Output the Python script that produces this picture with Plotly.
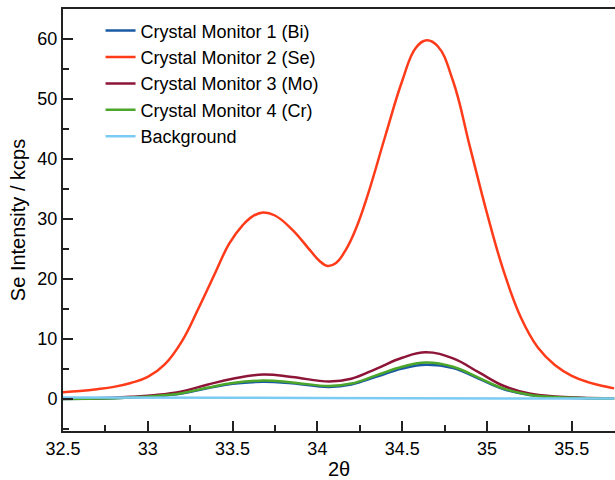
import plotly.graph_objects as go

# Shared 2θ grid for the weak monitors
theta = [32.5, 32.7, 32.9, 33.05, 33.2, 33.35, 33.5, 33.68, 33.85, 34.07, 34.2,
         34.35, 34.5, 34.64, 34.8, 34.95, 35.1, 35.25, 35.4, 35.55, 35.75]
mon1_bi = [0.05, 0.1, 0.28, 0.5, 0.95, 1.8, 2.55, 2.9, 2.65, 2.05, 2.45,
           3.75, 5.1, 5.75, 5.2, 3.45, 1.65, 0.7, 0.33, 0.18, 0.1]
mon3_mo = [0.1, 0.15, 0.4, 0.7, 1.3, 2.4, 3.4, 4.1, 3.7, 2.95, 3.4,
           5.1, 6.9, 7.8, 6.8, 4.5, 2.2, 0.95, 0.45, 0.25, 0.15]
mon4_cr = [0.05, 0.1, 0.3, 0.55, 1.0, 1.9, 2.7, 3.1, 2.8, 2.2, 2.6,
           4.0, 5.4, 6.1, 5.4, 3.6, 1.75, 0.75, 0.35, 0.2, 0.1]

# Se monitor (strong)
theta_se = [32.5, 32.6, 32.7, 32.8, 32.9, 33.0, 33.1, 33.2, 33.3, 33.4, 33.48, 33.56,
            33.62, 33.68, 33.75, 33.85, 33.96, 34.01, 34.06, 34.11, 34.17, 34.23,
            34.3, 34.4, 34.5, 34.58, 34.645, 34.71, 34.8, 34.9, 35.0, 35.1, 35.2,
            35.3, 35.4, 35.5, 35.6, 35.7, 35.75]
mon2_se = [1.15, 1.35, 1.65, 2.05, 2.7, 3.7, 5.8, 9.6, 15.2, 21.2, 25.9, 29.0,
           30.5, 31.1, 30.6, 28.3, 24.7, 23.1, 22.2, 22.7, 25.0, 28.6,
           34.3, 43.8, 53.0, 58.5, 59.8, 58.8, 53.0, 42.0, 31.0, 21.2, 13.6,
           8.6, 5.7, 3.9, 2.8, 2.1, 1.8]

# Background
theta_bg = [32.5, 33.5, 34.5, 35.75]
background = [0.3, 0.25, 0.15, 0.1]

names = ["Crystal Monitor 1 (Bi)", "Crystal Monitor 2 (Se)", "Crystal Monitor 3 (Mo)",
         "Crystal Monitor 4 (Cr)", "Background"]
colors = ["#1a5aa5", "#ff3b1a", "#8c1538", "#4ca62a", "#7ccbf5"]
xs = [theta, theta_se, theta, theta, theta_bg]
ys = [mon1_bi, mon2_se, mon3_mo, mon4_cr, background]

fig = go.Figure()
for i in range(5):
    fig.add_trace(go.Scatter(
        x=xs[i], y=ys[i], mode="lines", name=names[i],
        line=dict(color=colors[i], width=2.5, shape="spline", smoothing=1.2),
    ))

font_family = "Liberation Sans, Arial, Helvetica, sans-serif"
fig.update_layout(
    width=615, height=480,
    margin=dict(l=63, r=0, t=9, b=49),
    paper_bgcolor="white", plot_bgcolor="white",
    font=dict(family=font_family, size=18, color="black"),
    showlegend=True,
    legend=dict(x=0.068, y=0.992, xanchor="left", yanchor="top",
                bgcolor="rgba(0,0,0,0)", font=dict(size=18),
                itemclick=False),
    xaxis=dict(
        range=[32.5, 35.755], tickmode="array",
        tickvals=[32.5, 33, 33.5, 34, 34.5, 35, 35.5],
        ticktext=["32.5", "33", "33.5", "34", "34.5", "35", "35.5"],
        ticks="inside", ticklen=10, tickwidth=1.5, tickcolor="#222",
        minor=dict(tickvals=[32.75, 33.25, 33.75, 34.25, 34.75, 35.25, 35.75],
                   ticks="inside", ticklen=6, tickwidth=1.5, tickcolor="#222"),
        showline=True, linewidth=2, linecolor="#222", mirror=True,
        showgrid=False, zeroline=False,
        title=dict(text="2θ", font=dict(size=20), standoff=8),
        tickfont=dict(size=18),
    ),
    yaxis=dict(
        range=[-5.3, 65], tickmode="array",
        tickvals=[0, 10, 20, 30, 40, 50, 60],
        ticks="inside", ticklen=10, tickwidth=1.5, tickcolor="#222",
        minor=dict(tickvals=[-5, 5, 15, 25, 35, 45, 55],
                   ticks="inside", ticklen=6, tickwidth=1.5, tickcolor="#222"),
        showline=True, linewidth=2, linecolor="#222", mirror=False,
        showgrid=False, zeroline=False,
        title=dict(text="Se Intensity / kcps", font=dict(size=20), standoff=6),
        tickfont=dict(size=18),
    ),
)

fig.write_html("out.html")
